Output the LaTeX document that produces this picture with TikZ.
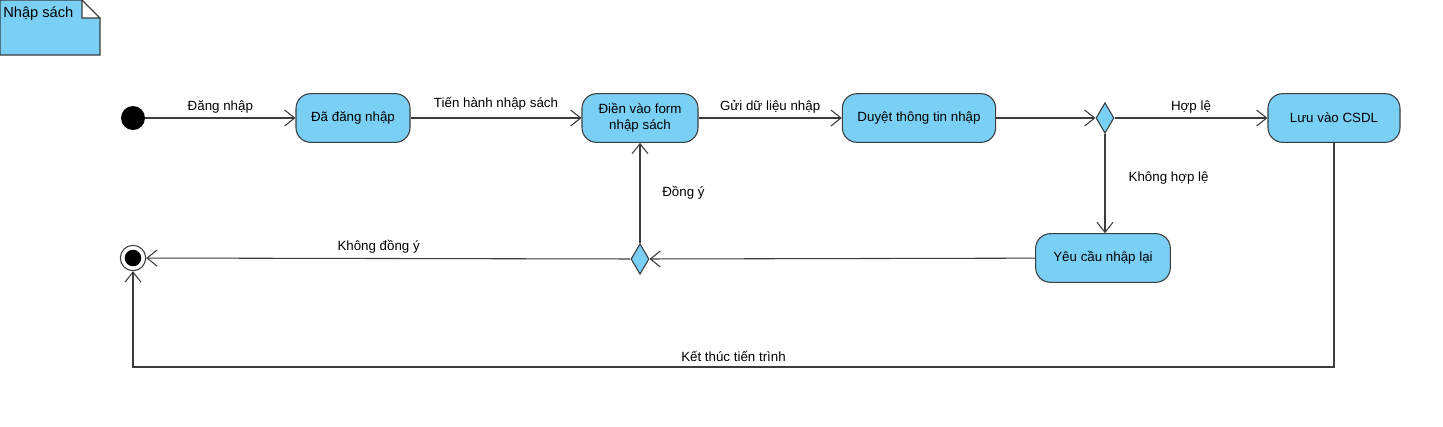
\documentclass[tikz,border=0pt]{standalone}
\usepackage{fontspec}
\setmainfont{Liberation Sans}
\usetikzlibrary{shapes.geometric, positioning, arrows.meta, calc}
\definecolor{actblue}{HTML}{7ACFF5}
\definecolor{lineg}{HTML}{3C3C3C}

\begin{document}
\begin{tikzpicture}[x=0.75pt, y=-0.75pt, font=\fontsize{10}{12}\selectfont,
  action/.style={draw=lineg, fill=actblue, rounded corners=11pt, minimum height=36.5pt, align=center, line width=0.8pt},
  decision/.style={draw=lineg, fill=actblue, diamond, inner sep=0pt, minimum width=13.5pt, minimum height=23pt, line width=0.8pt},
  flow/.style={draw=lineg, line width=0.8pt, -{Straight Barb[length=7.5pt,width=12pt]}}]
\useasboundingbox (0,0) rectangle (1443,426);

% note
\draw[draw=lineg, fill=actblue, line width=0.8pt] (0,0) -- (82,0) -- (100,18) -- (100,55) -- (0,55) -- cycle;
\draw[draw=lineg, fill=white, line width=0.8pt] (82,0) -- (82,18) -- (100,18) -- cycle;
\node[anchor=west, inner sep=0pt, font=\fontsize{11}{13}\selectfont] (note) at (3,14) {Nhập sách};

% nodes
\node[circle, fill=black, minimum size=18pt, inner sep=0pt] (start) at (133,118) {};
\node[action, minimum width=85.5pt] (A1) at (353,118) {Đã đăng nhập};
\node[action, minimum width=87pt] (A2) at (640,118) {Điền vào form\\nhập sách};
\node[action, minimum width=115pt] (A3) at (919,118) {Duyệt thông tin nhập};
\node[decision] (D1) at (1105,118) {};
\node[action, minimum width=99pt] (A4) at (1334,118) {Lưu vào CSDL};
\node[action, minimum width=101pt] (A5) at (1103,258) {Yêu cầu nhập lại};
\node[decision] (D2) at (640,259) {};
\node[circle, draw=lineg, fill=white, minimum size=19pt, inner sep=0pt, line width=0.8pt] (stop) at (133,258) {};
\fill[black] (stop.center) circle (6.2pt);

% edges
\draw[flow] (start) -- node[above] {Đăng nhập} (A1);
\draw[flow] (A1) -- node[above, yshift=2pt] {Tiến hành nhập sách} (A2);
\draw[flow] (A2) -- node[above] {Gửi dữ liệu nhập} (A3);
\draw[flow] (A3) -- (D1);
\draw[flow] (D1) -- node[right, xshift=14pt, yshift=4pt] {Không hợp lệ} (A5.north -| D1);
\draw[flow] (D1) -- node[above] {Hợp lệ} (A4);
\draw[flow] (A5) -- (D2);
\draw[flow] (D2) -- node[right, xshift=13pt] {Đồng ý} (A2);
\draw[flow] (D2) -- node[above, pos=0.52] {Không đồng ý} (stop);
\draw[flow] (A4) -- (1334,367) -- node[above] {Kết thúc tiến trình} (133,367) -- (stop);
\end{tikzpicture}
\end{document}
